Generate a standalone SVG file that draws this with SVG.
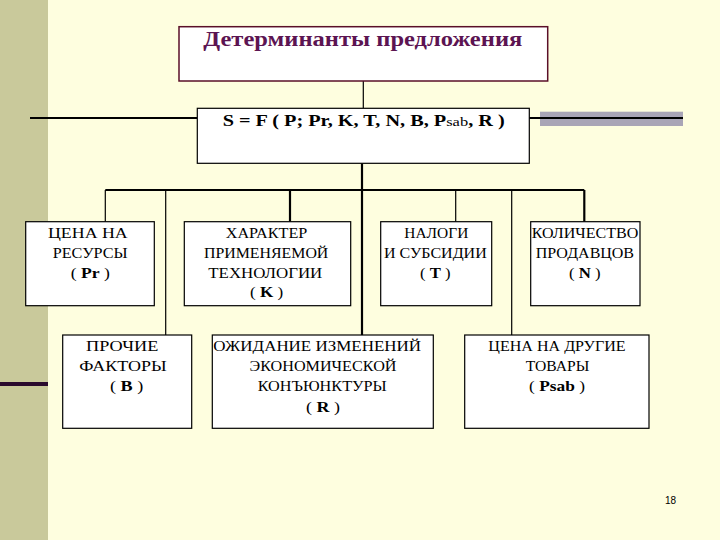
<svg xmlns="http://www.w3.org/2000/svg" width="720" height="540" viewBox="0 0 720 540">
<style>
.box{fill:#ffffff;stroke:#000000;stroke-width:1.2}
.t{font-family:"Liberation Serif","DejaVu Serif","Times New Roman",serif;font-size:14.5px;fill:#000000}
.b{font-weight:bold}
.thick{stroke:#000000;stroke-width:2.2;fill:none}
.thin{stroke:#000000;stroke-width:1.2;fill:none}
</style>
<rect x="0" y="0" width="720" height="540" fill="#FEFEDF"/>
<rect x="0" y="0" width="48" height="540" fill="#C9C99B"/>
<rect x="0" y="382" width="48" height="4" fill="#2A0A2E"/>
<rect x="540" y="111.7" width="143" height="14.3" fill="#A9A5B6"/>
<g id="connectors">
<line class="thick" x1="30" y1="118" x2="197" y2="118"/>
<line class="thick" x1="529" y1="118" x2="683" y2="118"/>
<line class="thin" x1="363.3" y1="81" x2="363.3" y2="108.3"/>
<line class="thick" x1="362" y1="163.3" x2="362" y2="335"/>
<line class="thick" x1="105.3" y1="190" x2="584.3" y2="190"/>
<line class="thin" x1="105.3" y1="190" x2="105.3" y2="221.7"/>
<line class="thin" x1="165.7" y1="190" x2="165.7" y2="335"/>
<line class="thick" x1="290" y1="190" x2="290" y2="221.7"/>
<line class="thin" x1="455.7" y1="190" x2="455.7" y2="221.7"/>
<line class="thin" x1="511.7" y1="190" x2="511.7" y2="335"/>
<line class="thick" x1="584.3" y1="190" x2="584.3" y2="221.7"/>
</g>
<g id="title">
<rect x="179" y="26.7" width="368.7" height="54.3" fill="#ffffff" stroke="#5A0F28" stroke-width="1.5"/>
<text x="203.3" y="46" textLength="319" lengthAdjust="spacingAndGlyphs" font-family="'Liberation Serif', 'DejaVu Serif', serif" font-size="20" font-weight="bold" fill="#5C1452">Детерминанты  предложения</text>
</g>
<g id="formula">
<rect class="box" x="197.3" y="108.3" width="332" height="55"/>
<text x="222.7" y="126" textLength="282" lengthAdjust="spacingAndGlyphs" font-family="'Liberation Serif', 'DejaVu Serif', serif" font-size="16" font-weight="bold" fill="#000">S = F ( P; Pr, K, T, N, B, P<tspan font-weight="normal" font-size="13">sab</tspan>, R )</text>
</g>
<g id="node-pr">
<rect class="box" x="25.7" y="221.7" width="128.6" height="84"/>
<text class="t" x="48" y="237.5" textLength="79.7" lengthAdjust="spacingAndGlyphs">ЦЕНА НА</text>
<text class="t" x="52.7" y="257.5" textLength="75" lengthAdjust="spacingAndGlyphs">РЕСУРСЫ</text>
<text class="t" x="70.7" y="277.5" textLength="39.3" lengthAdjust="spacingAndGlyphs">( <tspan class="b">Pr</tspan> )</text>
</g>
<g id="node-k">
<rect class="box" x="184.3" y="221.7" width="166.4" height="84"/>
<text class="t" x="225.7" y="237.5" textLength="81.6" lengthAdjust="spacingAndGlyphs">ХАРАКТЕР</text>
<text class="t" x="204" y="257.5" textLength="124.3" lengthAdjust="spacingAndGlyphs">ПРИМЕНЯЕМОЙ</text>
<text class="t" x="208.3" y="277.5" textLength="114" lengthAdjust="spacingAndGlyphs">ТЕХНОЛОГИИ</text>
<text class="t" x="250" y="297" textLength="33.3" lengthAdjust="spacingAndGlyphs">( <tspan class="b">K</tspan> )</text>
</g>
<g id="node-t">
<rect class="box" x="380.7" y="221.7" width="111" height="84"/>
<text class="t" x="404.3" y="237.5" textLength="64" lengthAdjust="spacingAndGlyphs">НАЛОГИ</text>
<text class="t" x="384" y="257.5" textLength="102.7" lengthAdjust="spacingAndGlyphs">И СУБСИДИИ</text>
<text class="t" x="420" y="277.5" textLength="30.7" lengthAdjust="spacingAndGlyphs">( <tspan class="b">T</tspan> )</text>
</g>
<g id="node-n">
<rect class="box" x="530.7" y="221.7" width="109.3" height="84"/>
<text class="t" x="531.7" y="237.5" textLength="106.6" lengthAdjust="spacingAndGlyphs">КОЛИЧЕСТВО</text>
<text class="t" x="535.7" y="257.5" textLength="98.3" lengthAdjust="spacingAndGlyphs">ПРОДАВЦОВ</text>
<text class="t" x="569" y="277.5" textLength="31.7" lengthAdjust="spacingAndGlyphs">( <tspan class="b">N</tspan> )</text>
</g>
<g id="node-b">
<rect class="box" x="62.7" y="335" width="129" height="93.3"/>
<text class="t" x="86" y="350.5" textLength="72.3" lengthAdjust="spacingAndGlyphs">ПРОЧИЕ</text>
<text class="t" x="79.3" y="370.5" textLength="87.4" lengthAdjust="spacingAndGlyphs">ФАКТОРЫ</text>
<text class="t" x="110" y="390.5" textLength="33.3" lengthAdjust="spacingAndGlyphs">( <tspan class="b">B</tspan> )</text>
</g>
<g id="node-r">
<rect class="box" x="212.3" y="335" width="221" height="93.3"/>
<text class="t" x="213.3" y="350.5" textLength="207.7" lengthAdjust="spacingAndGlyphs">ОЖИДАНИЕ ИЗМЕНЕНИЙ</text>
<text class="t" x="249.5" y="370.5" textLength="147" lengthAdjust="spacingAndGlyphs">ЭКОНОМИЧЕСКОЙ</text>
<text class="t" x="257.7" y="390.5" textLength="129" lengthAdjust="spacingAndGlyphs">КОНЪЮНКТУРЫ</text>
<text class="t" x="306" y="411.7" textLength="34" lengthAdjust="spacingAndGlyphs">( <tspan class="b">R</tspan> )</text>
</g>
<g id="node-psab">
<rect class="box" x="464.7" y="335" width="184.3" height="93.3"/>
<text class="t" x="488.3" y="350.5" textLength="137.4" lengthAdjust="spacingAndGlyphs">ЦЕНА НА ДРУГИЕ</text>
<text class="t" x="525.7" y="370.5" textLength="63.6" lengthAdjust="spacingAndGlyphs">ТОВАРЫ</text>
<text class="t" x="529" y="390.5" textLength="56" lengthAdjust="spacingAndGlyphs">( <tspan class="b">Psab</tspan> )</text>
</g>
<text x="665" y="504" font-family="'Liberation Sans', Arial, sans-serif" font-size="10" fill="#000">18</text>
</svg>
